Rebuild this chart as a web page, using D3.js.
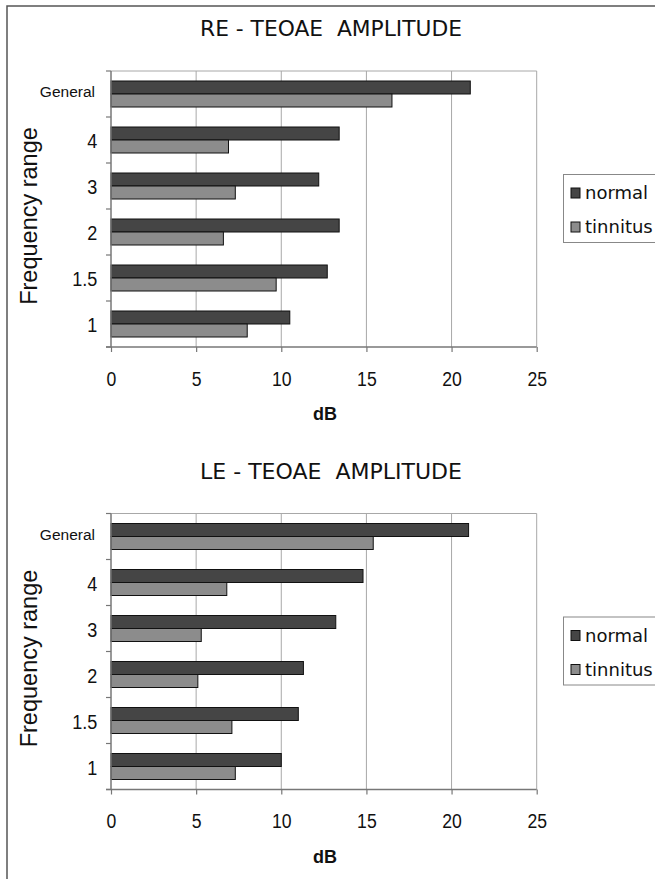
<!DOCTYPE html>
<html><head><meta charset="utf-8">
<script src="https://cdn.jsdelivr.net/npm/d3@7"></script>
<style>body{margin:0;background:#fff}svg{display:block}</style>
</head><body>
<script>
const categories = ["General", "4", "3", "2", "1.5", "1"];
const seriesNames = ["normal", "tinnitus"];
const reNormal = [21.1, 13.4, 12.2, 13.4, 12.7, 10.5];
const reTinnitus = [16.5, 6.9, 7.3, 6.6, 9.7, 8.0];
const leNormal = [21.0, 14.8, 13.2, 11.3, 11.0, 10.0];
const leTinnitus = [15.4, 6.8, 5.3, 5.1, 7.1, 7.3];
const xTicks = [0, 5, 10, 15, 20, 25];
const titles = ["RE - TEOAE  AMPLITUDE", "LE - TEOAE  AMPLITUDE"];
const xLabel = "dB", yLabel = "Frequency range";

const W = 655, H = 879;
const colors = {normal: "#454545", tinnitus: "#8c8c8c"};

const svg = d3.select("body").append("svg").attr("width", W).attr("height", H);
svg.append("rect").attr("x", 7).attr("y", 6).attr("width", 800).attr("height", 1000)
  .attr("fill", "none").attr("stroke", "#555").attr("stroke-width", 1.5);

function drawPanel(oy, title, normalVals, tinnitusVals) {
  const g = svg.append("g").attr("transform", `translate(0,${oy})`);
  const x = d3.scaleLinear().domain([0, 25]).range([111, 536.7]);
  const y = d3.scaleBand().domain(categories).range([71, 347]).padding(0);
  const ys = d3.scaleBand().domain(seriesNames).range([10, y.bandwidth() - 10]).padding(0);

  g.append("text").attr("x", 331).attr("y", 36).attr("text-anchor", "middle")
    .attr("font-family", "DejaVu Sans").attr("font-size", 21).attr("fill", "#111")
    .attr("textLength", 262).attr("lengthAdjust", "spacingAndGlyphs")
    .style("white-space", "pre").text(title);

  g.append("g").selectAll("line").data(xTicks.slice(1)).join("line")
    .attr("x1", d => x(d)).attr("x2", d => x(d)).attr("y1", 71).attr("y2", 347)
    .attr("stroke", "#a8a8a8").attr("stroke-width", 1);
  g.append("line").attr("x1", x(0)).attr("x2", x(25)).attr("y1", 71).attr("y2", 71)
    .attr("stroke", "#a8a8a8");

  const data = categories.map((c, i) => ({c, normal: normalVals[i], tinnitus: tinnitusVals[i]}));
  const cg = g.append("g").selectAll("g").data(data).join("g")
    .attr("transform", d => `translate(0,${y(d.c)})`);
  cg.selectAll("rect").data(d => seriesNames.map(s => ({s, v: d[s]}))).join("rect")
    .attr("x", x(0)).attr("y", d => ys(d.s)).attr("width", d => x(d.v) - x(0))
    .attr("height", ys.bandwidth()).attr("fill", d => colors[d.s])
    .attr("stroke", "#111").attr("stroke-width", 1);

  const xa = g.append("g").attr("transform", "translate(0,347)")
    .call(d3.axisBottom(x).tickValues(xTicks).tickSize(5).tickPadding(0).tickSizeOuter(0));
  xa.select(".domain").attr("d", `M106,0H${x(25)}`).attr("stroke", "#777").attr("stroke-width", 1.5);
  xa.selectAll(".tick line").attr("stroke", "#777").attr("stroke-width", 1.2);
  xa.selectAll(".tick text").attr("y", 39).attr("dy", 0)
    .attr("font-family", "Liberation Sans").attr("font-size", 20.5).attr("fill", "#111")
    .attr("transform", "scale(0.86,1)");

  const ya = g.append("g").attr("transform", `translate(${x(0)},0)`)
    .call(d3.axisLeft(y).tickSize(0).tickPadding(0));
  ya.select(".domain").attr("d", "M0,71V347").attr("stroke", "#777").attr("stroke-width", 1.5);
  ya.selectAll(".tick text")
    .attr("font-family", "Liberation Sans")
    .attr("fill", "#111")
    .attr("font-size", d => d === "General" ? 15.5 : 21)
    .attr("x", d => d === "General" ? -16 : -16)
    .attr("dy", d => d === "General" ? "0.2em" : "0.4em")
    .attr("transform", d => d === "General" ? null : "scale(0.86,1)");
  const bounds = categories.map(c => y(c)).concat([y.range()[1]]);
  g.append("g").selectAll("line").data(bounds).join("line")
    .attr("x1", x(0) - 5).attr("x2", x(0)).attr("y1", d => d).attr("y2", d => d)
    .attr("stroke", "#777").attr("stroke-width", 1.2);

  g.append("text").attr("x", 325).attr("y", 420).attr("text-anchor", "middle")
    .attr("font-family", "Liberation Sans").attr("font-weight", "bold").attr("font-size", 18)
    .attr("fill", "#111").text(xLabel);
  g.append("text").attr("text-anchor", "middle")
    .attr("font-family", "Liberation Sans").attr("font-size", 23.5).attr("fill", "#111")
    .attr("transform", "translate(37,216) rotate(-90)")
    .text(yLabel);

  const lg = g.append("g");
  lg.append("rect").attr("x", 563.5).attr("y", 174.5).attr("width", 120).attr("height", 68)
    .attr("fill", "#fff").attr("stroke", "#888").attr("stroke-width", 1);
  seriesNames.forEach((s, i) => {
    const yy = 188 + i * 34;
    lg.append("rect").attr("x", 571).attr("y", yy).attr("width", 9).attr("height", 10)
      .attr("fill", colors[s]).attr("stroke", "#111").attr("stroke-width", 1);
    lg.append("text").attr("x", 585).attr("y", yy + 11)
      .attr("font-family", "DejaVu Sans").attr("font-size", 18).attr("fill", "#111").text(s);
  });
}

drawPanel(0, titles[0], reNormal, reTinnitus);
drawPanel(442.5, titles[1], leNormal, leTinnitus);
</script>
</body></html>
